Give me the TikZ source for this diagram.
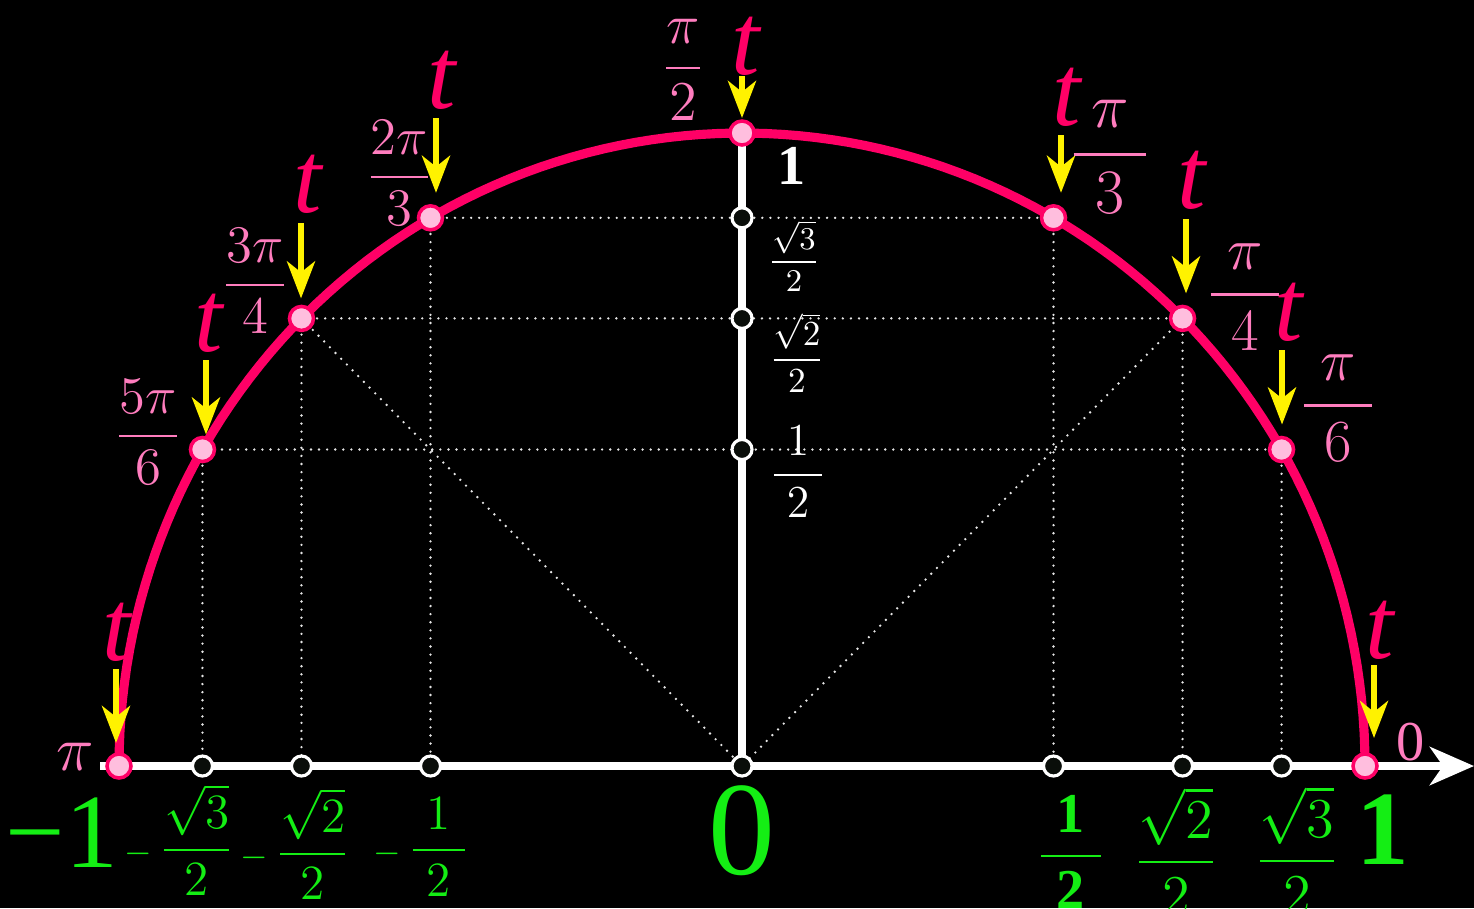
\RequirePackage{fix-cm}
\documentclass[tikz,border=0pt]{standalone}
\usepackage{amsmath,amssymb}
\usepackage{fontspec}
\setmainfont{Liberation Serif}
\usepackage{tikz}
\usetikzlibrary{arrows.meta,calc}
\definecolor{arcred}{RGB}{255,0,102}
\definecolor{lblpink}{RGB}{255,125,190}
\definecolor{dotpink}{RGB}{255,190,222}
\definecolor{dotblack}{RGB}{10,14,10}
\definecolor{axgreen}{RGB}{20,238,20}
\newcommand{\fsz}[1]{\fontsize{#1}{#1}\selectfont}

\begin{document}
\begin{tikzpicture}[x=0.01cm, y=-0.01cm,
	pinkdot/.style={circle, draw=arcred, fill=dotpink, line width=1pt, minimum size=0.24cm, inner sep=0pt},
	axdot/.style={circle, draw=white, fill=dotblack, line width=0.9pt, minimum size=0.2cm, inner sep=0pt},
	guide/.style={white!90!black, line width=0.75pt, line cap=round, dash pattern=on 0pt off 2.3pt},
	tarrow/.style={yellow, line width=1.7pt, -{Stealth[length=0.37cm,width=0.28cm,inset=0.11cm]}},
	tlbl/.style={text=arcred, inner sep=0pt, font=\fsz{29}},
	anglbl/.style={text=lblpink, inner sep=0pt},
	ylbl/.style={text=white, inner sep=0pt},
	xlbl/.style={text=axgreen, inner sep=0pt}]
	\fill[black] (0,0) rectangle (1474,908);
	\useasboundingbox (0,0) rectangle (1474,908);
	% points on the half circle and their feet on the axes
	\coordinate (o) at (742,766);
	\foreach \a in {0,30,45,60,90,120,135,150,180} {
		\coordinate (c\a) at ({742+623*cos(\a)},{766-633*sin(\a)});
		\coordinate (x\a) at ({742+623*cos(\a)},766);
		\coordinate (y\a) at (742,{766-633*sin(\a)});
	}
	% dotted guides
	\foreach \a in {30,45,60,120,135,150}
		\draw[guide] (c\a) -- (x\a);
	\draw[guide] (c30) -- (c150);
	\draw[guide] (c45) -- (c135);
	\draw[guide] (c60) -- (c120);
	\draw[guide] (c135) -- (o) -- (c45);
	% half circle
	\draw[arcred, line width=2.6pt] plot[domain=0:180, samples=120] ({742+623*cos(\x)},{766-633*sin(\x)});
	% axes
	\coordinate (xs) at (100,766);
	\coordinate (xe) at (1474,766);
	\draw[white, line width=2.2pt, -{Stealth[length=0.44cm,width=0.38cm,inset=0.13cm]}] (xs) -- (xe);
	\draw[white, line width=2.2pt] (o) -- (c90);
	\foreach \a in {30,45,60,120,135,150}
		\node[axdot] (dx\a) at (x\a) {};
	\foreach \a in {30,45,60}
		\node[axdot] (dy\a) at (y\a) {};
	\node[axdot] (d0) at (o) {};
	\foreach \a in {0,30,45,60,90,120,135,150,180}
		\node[pinkdot] (p\a) at (c\a) {};
	% yellow arrows and t
	\foreach \a/\ax/\ay/\gap/\tx/\ty in {0/1374/665/0.28cm/1381/630, 30/1282/350/0.25cm/1290/312,
		45/1186/219/0.25cm/1193/180, 60/1061/135/0.25cm/1068/97, 90/742/76/0.15cm/747/46,
		120/436/118/0.25cm/443/80, 135/301/223/0.2cm/309/184, 150/206/360/0.15cm/210/323,
		180/116/669/0.23cm/118/632} {
		\coordinate (a\a) at (\ax,\ay);
		\draw[tarrow, shorten >=\gap] (a\a) -- (a\a |- p\a);
		\node[tlbl] (t\a) at (\tx,\ty) {\textit{t}};
	}
	% angle labels
	\node[anglbl, font=\fsz{18}] (l180) at (75,757) {$\pi$};
	\node[anglbl, font=\fsz{16}] (l0) at (1411,742) {0};
	\node[anglbl, font=\fsz{15}] (l150) at (148,432) {$\dfrac{5\pi}{6}$};
	\node[anglbl, font=\fsz{15}] (l135) at (255,281) {$\dfrac{3\pi}{4}$};
	\node[anglbl, font=\fsz{15}] (l120) at (399,173) {$\dfrac{2\pi}{3}$};
	\node[anglbl, font=\fsz{16}] (l90) at (683,70) {$\dfrac{\pi}{2}$};
	\node[anglbl, font=\fsz{18}] (l60) at (1110,157) {$\dfrac{\;\pi\;}{3}$};
	\node[anglbl, font=\fsz{17}] (l45) at (1245,297) {$\dfrac{\;\pi\;}{4}$};
	\node[anglbl, font=\fsz{17}] (l30) at (1338,408) {$\dfrac{\;\pi\;}{6}$};
	% sine values
	\node[ylbl, font=\fsz{16}] (s90) at (792,166) {\textbf{1}};
	\node[ylbl, font=\fsz{9}] (s60) at (794,256) {$\dfrac{\sqrt{3}}{2}$};
	\node[ylbl, font=\fsz{10}] (s45) at (797,353) {$\dfrac{\sqrt{2}}{2}$};
	\node[ylbl, font=\fsz{13}] (s30) at (798,472) {$\dfrac{\;1\;}{2}$};
	% cosine values
	\node[xlbl, font=\fsz{30}] (k180) at (62,833) {−1};
	\node[xlbl, font=\fsz{14}] (k150) at (179,840) {${\scriptstyle -}\,\dfrac{\sqrt{3}}{2}$};
	\node[xlbl, font=\fsz{14}] (k135) at (295,844) {${\scriptstyle -}\,\dfrac{\sqrt{2}}{2}$};
	\node[xlbl, font=\fsz{14}] (k120) at (421,847) {${\scriptstyle -}\,\dfrac{\;1\;}{2}$};
	\node[xlbl, font=\fsz{38}] (k90) at (742,831) {0};
	\node[xlbl, font=\fsz{16}] (k60) at (1071,852) {$\dfrac{\;\mathbf{1}\;}{\mathbf{2}}$};
	\node[xlbl, font=\fsz{16}] (k45) at (1176,851) {$\dfrac{\sqrt{2}}{2}$};
	\node[xlbl, font=\fsz{16}] (k30) at (1297,850) {$\dfrac{\sqrt{3}}{2}$};
	\node[xlbl, font=\fsz{30}] (k0) at (1383,830) {\textbf{1}};
\end{tikzpicture}
\end{document}
